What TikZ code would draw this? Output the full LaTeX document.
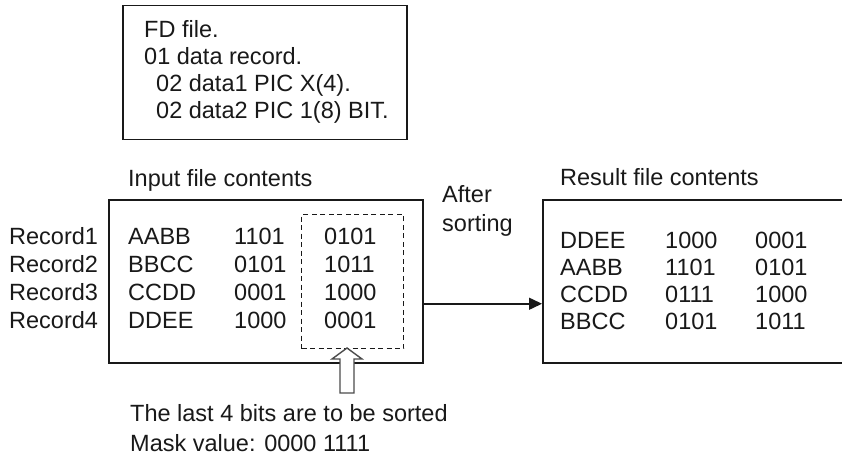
\documentclass[tikz,border=0pt]{standalone}
\usepackage{fontspec}
\setmainfont{Liberation Sans}
\usetikzlibrary{arrows.meta}

\tikzset{
  frame/.style={draw=black!90, line width=1.5pt},
  txt/.style={anchor=west, inner sep=0pt, text height=16pt, text depth=0pt,
    font=\fontsize{23.5}{28}\selectfont, text=black!90},
}

\begin{document}
\begin{tikzpicture}[x=1pt, y=-1pt]
\useasboundingbox (0,0) rectangle (842,457);
\clip (0,0) rectangle (842,457);

% FD description
\node[frame, anchor=north west, minimum width=284pt, minimum height=134pt] (fdbox) at (122,5) {};
\node[txt] (fd1) at (144,30) {FD file.};
\node[txt] (fd2) at (144,57) {01 data record.};
\node[txt] (fd3) at (156,84) {02 data1 PIC X(4).};
\node[txt] (fd4) at (156,111) {02 data2 PIC 1(8) BIT.};

% input file
\node[txt] (inlabel) at (128,178) {Input file contents};
\node[frame, anchor=north west, minimum width=314pt, minimum height=163pt] (inbox) at (108,199) {};
\node[frame, line width=1.3pt, dashed, dash pattern=on 5pt off 3.5pt, anchor=north west, minimum width=102pt, minimum height=134pt] (sortkey) at (301,214) {};

\node[txt] (rec1) at (9,236) {Record1};
\node[txt] (rec2) at (9,264) {Record2};
\node[txt] (rec3) at (9,292) {Record3};
\node[txt] (rec4) at (9,320) {Record4};

\node[txt] (in1a) at (128,236) {AABB};
\node[txt] (in1b) at (234,236) {1101};
\node[txt] (in1c) at (324,236) {0101};
\node[txt] (in2a) at (128,264) {BBCC};
\node[txt] (in2b) at (234,264) {0101};
\node[txt] (in2c) at (324,264) {1011};
\node[txt] (in3a) at (128,292) {CCDD};
\node[txt] (in3b) at (234,292) {0001};
\node[txt] (in3c) at (324,292) {1000};
\node[txt] (in4a) at (128,320) {DDEE};
\node[txt] (in4b) at (234,320) {1000};
\node[txt] (in4c) at (324,320) {0001};

% sorting step
\node[txt] (after1) at (442,194) {After};
\node[txt] (after2) at (442,223) {sorting};

% result file
\node[txt] (outlabel) at (560,177) {Result file contents};
\node[frame, anchor=north west, minimum width=310pt, minimum height=163pt] (outbox) at (542,199) {};

\node[txt] (out1a) at (560,240) {DDEE};
\node[txt] (out1b) at (665,240) {1000};
\node[txt] (out1c) at (755,240) {0001};
\node[txt] (out2a) at (560,267) {AABB};
\node[txt] (out2b) at (665,267) {1101};
\node[txt] (out2c) at (755,267) {0101};
\node[txt] (out3a) at (560,294) {CCDD};
\node[txt] (out3b) at (665,294) {0111};
\node[txt] (out3c) at (755,294) {1000};
\node[txt] (out4a) at (560,321) {BBCC};
\node[txt] (out4b) at (665,321) {0101};
\node[txt] (out4c) at (755,321) {1011};

\draw[frame, -{Triangle[length=13pt, width=12pt]}] ([yshift=-22.5pt]inbox.east) -- ([yshift=-22.5pt]outbox.west);

% hollow arrow pointing at the sort key
\coordinate (tip) at (347,348);
\draw[line width=1.4pt, draw=black!70, fill=white] (tip) -- ++(15,11) -- ++(-8,0) -- ++(0,34) -- ++(-14,0) -- ++(0,-34) -- ++(-8,0) -- cycle;

\node[txt] (note1) at (130,413) {The last 4 bits are to be sorted};
\node[txt] (note2) at (130,443) {Mask value: 0000 1111};

\end{tikzpicture}
\end{document}
